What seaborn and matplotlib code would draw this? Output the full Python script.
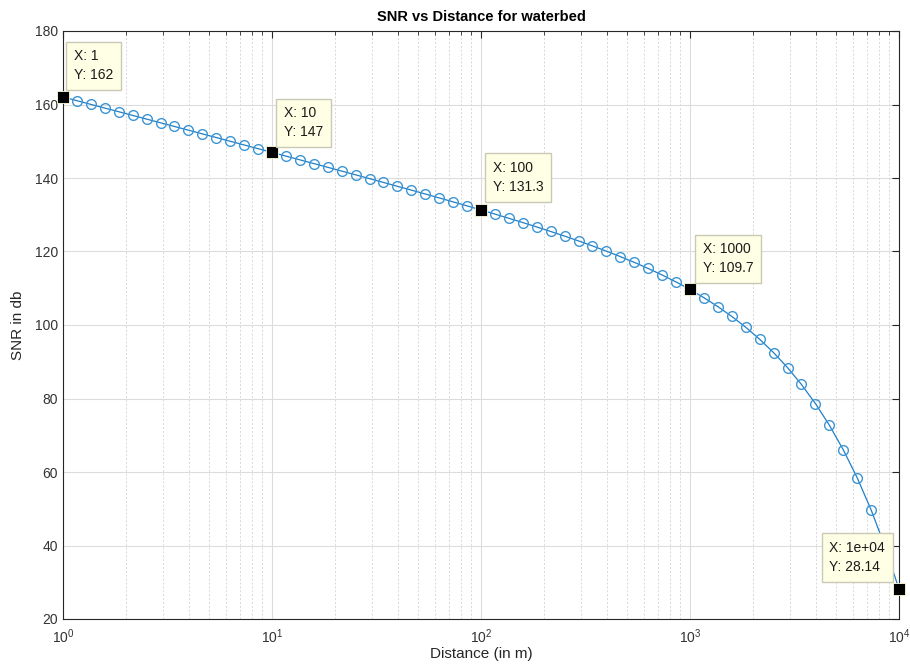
import numpy as np
import pandas as pd
import matplotlib
matplotlib.use("Agg")
import matplotlib.pyplot as plt
import seaborn as sns

# ---- data ----
distance = [1, 1.1659, 1.3594, 1.5849, 1.8478, 2.1544, 2.5119, 2.9286, 3.4145, 3.9811,
            4.6416, 5.4117, 6.3096, 7.3564, 8.5770, 10, 11.659, 13.594, 15.849, 18.478,
            21.544, 25.119, 29.286, 34.145, 39.811, 46.416, 54.117, 63.096, 73.564, 85.770,
            100, 116.59, 135.94, 158.49, 184.78, 215.44, 251.19, 292.86, 341.45, 398.11,
            464.16, 541.17, 630.96, 735.64, 857.70, 1000, 1165.9, 1359.4, 1584.9, 1847.8,
            2154.4, 2511.9, 2928.6, 3414.5, 3981.1, 4641.6, 5411.7, 6309.6, 7356.4, 8577.0,
            10000]
snr = [162.04, 161.04, 160.03, 159.03, 158.03, 157.03, 156.03, 155.02, 154.02, 153.02,
       152.01, 151.01, 150.00, 148.99, 147.98, 146.97, 145.96, 144.94, 143.93, 142.91,
       141.89, 140.86, 139.83, 138.79, 137.75, 136.70, 135.65, 134.58, 133.50, 132.41,
       131.31, 130.18, 129.04, 127.87, 126.68, 125.45, 124.19, 122.88, 121.52, 120.10,
       118.61, 117.05, 115.38, 113.61, 111.71, 109.66, 107.43, 105.00, 102.33, 99.39,
       96.12, 92.48, 88.40, 83.81, 78.63, 72.74, 66.05, 58.42, 49.68, 39.66,
       28.14]
tip_x = [1, 10, 100, 1000, 10000]
tip_y = [162, 147, 131.3, 109.7, 28.14]
tip_xlabel = ["1", "10", "100", "1000", "1e+04"]
tip_ylabel = ["162", "147", "131.3", "109.7", "28.14"]
yticks = [20, 40, 60, 80, 100, 120, 140, 160, 180]

sns.set_style("white")
plt.rcParams['font.family'] = ['Liberation Sans', 'DejaVu Sans']
plt.rcParams['mathtext.fontset'] = 'custom'
plt.rcParams['mathtext.rm'] = 'Liberation Sans'
plt.rcParams['mathtext.it'] = 'Liberation Sans'

fig = plt.figure(figsize=(9.10, 6.71), dpi=100)
ax = fig.add_axes([63/910, 1-619/671, (899-63)/910, (619-31)/671])

df = pd.DataFrame({"Distance": distance, "SNR": snr})
line_color = "#1F7FC8"
sns.lineplot(data=df, x="Distance", y="SNR", ax=ax, color=line_color, linewidth=0.9,
             marker="o", markersize=7, markerfacecolor="none",
             markeredgecolor="#3D95D4", markeredgewidth=1.0, zorder=3)

ax.set_xscale("log")
ax.set_xlim(1, 10000)
ax.set_ylim(20, 180)
ax.set_yticks(yticks)

ax.grid(True, which="major", color="#DCDCDC", linewidth=0.8, linestyle="-")
ax.grid(True, which="minor", axis="x", color="#D8D8D8", linewidth=0.7, linestyle=(0, (2, 2)))
ax.set_axisbelow(True)

for s in ax.spines.values():
    s.set_color("#262626")
    s.set_linewidth(0.8)
ax.tick_params(which="both", direction="in", top=True, right=True, colors="#262626",
               labelsize=10, labelcolor="#333333")
ax.tick_params(which="major", length=5)
ax.tick_params(which="minor", length=3)
ax.tick_params(axis="x", which="major", pad=6)

ax.set_title("SNR vs Distance for waterbed", fontsize=10.5, fontweight="bold", color="#000000", pad=7)
ax.set_xlabel("Distance (in m)", fontsize=11, color="#262626", labelpad=1)
ax.set_ylabel("SNR in db", fontsize=11, color="#262626", labelpad=7)

# data tips
ax.scatter(tip_x, tip_y, marker="s", s=70, color="black", edgecolor="#FFFFE1",
           linewidths=0.6, zorder=5, clip_on=False)
offsets = [(11, 15), (12, 13), (12, 16), (13, 14), (-14, 15)]
for i, (x, y) in enumerate(zip(tip_x, tip_y)):
    ha = "right" if i == 4 else "left"
    ax.annotate(f"X: {tip_xlabel[i]}\nY: {tip_ylabel[i]}", xy=(x, y), xytext=offsets[i],
                textcoords="offset pixels", ha=ha, va="bottom", multialignment="left",
                fontsize=10, color="#1a1a1a", linespacing=1.45, zorder=6,
                annotation_clip=False,
                bbox=dict(boxstyle="square,pad=0.55", facecolor="#FFFFE6",
                          edgecolor="#C9C9B4", linewidth=1.0))

fig.savefig("out.png", dpi=100, facecolor="white")
